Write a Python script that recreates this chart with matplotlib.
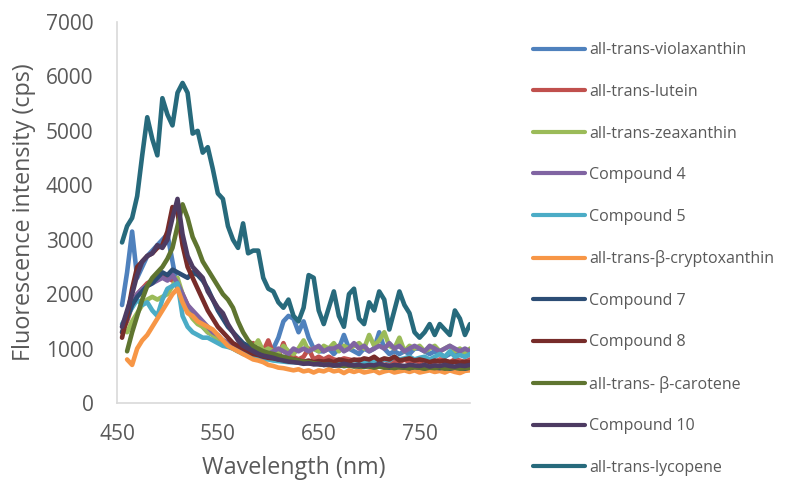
import numpy as np
import matplotlib
matplotlib.use("Agg")
import matplotlib.pyplot as plt

nan = np.nan
wavelength = list(range(455, 801, 5))

violaxanthin = [1800, 2400, 3150, 2300, 2500, 2700, 2800, 2900, 3000, 3100, 2600, 2100, 1900, 1750, 1600, 1500, 1400, 1300, 1250, 1200,
                1150, 1100, 1050, 1000, 1000, 950, 950, 950, 900, 950, 1000, 1200, 1500, 1600, 1550, 1300, 1500, 1200, 1000, 950,
                950, 1000, 900, 1000, 1250, 1000, 950, 900, 1000, 950, 1000, 1300, 1000, 900, 950, 900, 950, 900, 1000, 1000,
                950, 900, 950, 900, 850, 900, 950, 900, 850, 900]
lutein = [1300, 1500, 1800, 2000, 2100, 2200, 2250, 2300, 2350, 2300, 2250, 2200, 2000, 1800, 1650, 1550, 1450, 1350, 1300, 1200,
          1150, 1100, 1050, 1000, 950, 950, 1100, 900, 950, 1150, 900, 850, 1100, 850, 850, 800, 850, 1000, 800, 850,
          800, 850, 800, 780, 820, 800, 780, 800, 750, 800, 780, 750, 800, 750, 780, 750, 800, 750, 780, 750,
          800, 780, 750, 800, 780, 750, 800, 780, 750, 800]
zeaxanthin = [nan, 1300, 1500, 1650, 1800, 1900, 1950, 1900, 1950, 2000, 2150, 2300, 2000, 1700, 1550, 1450, 1400, 1300, 1250, 1150,
              1100, 1050, 1000, 950, 1000, 950, 1000, 1150, 950, 1000, 950, 900, 1050, 950, 900, 1000, 1150, 950, 1000, 950,
              1050, 1000, 1100, 950, 1050, 1000, 1050, 1100, 1000, 1250, 1050, 1150, 1300, 1050, 1000, 1200, 950, 1050, 1000, 1050,
              950, 1000, 1050, 950, 1000, 1050, 950, 1000, 900, 1000]
compound4 = [1400, 1600, 1800, 2000, 2100, 2150, 2200, 2250, 2300, 2250, 2350, 2200, 2000, 1800, 1700, 1600, 1500, 1400, 1300, 1250,
             1150, 1100, 1050, 1000, 950, 1000, 950, 900, 950, 900, 950, 1000, 950, 900, 1000, 950, 1000, 950, 1000, 1050,
             950, 1000, 1000, 1050, 950, 1000, 1100, 1000, 1050, 950, 1000, 1050, 1000, 1100, 1000, 1050, 950, 1000, 1050, 1000,
             950, 1050, 1000, 950, 1000, 1050, 1000, 950, 1000, 950]
compound5 = [1450, 1600, 1750, 1900, 1800, 1850, 1700, 1600, 1900, 2100, 2150, 2200, 1600, 1400, 1300, 1250, 1200, 1200, 1150, 1100,
             1050, 1030, 1000, 950, 900, 880, 850, 830, 800, 800, 780, 770, 760, 750, 750, 740, 730, 730, 720, 720,
             710, 720, 700, 720, 700, 720, 700, 720, 740, 760, 750, 780, 800, 780, 850, 800, 820, 850, 800, 830,
             850, 800, 850, 900, 850, 950, 850, 880, 850, 900]
cryptoxanthin = [nan, 800, 700, 1000, 1150, 1250, 1400, 1550, 1700, 1850, 2000, 2100, 1850, 1650, 1600, 1500, 1450, 1400, 1350, 1250,
                 1150, 1050, 1000, 950, 900, 850, 800, 780, 750, 700, 680, 650, 640, 620, 600, 620, 580, 600, 560, 600,
                 580, 620, 580, 600, 550, 600, 570, 600, 560, 580, 600, 550, 580, 600, 560, 580, 600, 570, 600, 560,
                 580, 600, 570, 590, 560, 600, 570, 550, 590, 600]
compound7 = [1300, 1550, 1800, 1950, 2050, 2150, 2200, 2300, 2400, 2350, 2450, 2400, 2350, 2300, 2400, 2350, 2250, 2100, 1900, 1700,
             1550, 1400, 1300, 1200, 1100, 1050, 1000, 950, 900, 870, 850, 820, 800, 780, 760, 750, 740, 730, 720, 710,
             700, 700, 690, 690, 680, 690, 680, 670, 680, 670, 660, 680, 660, 650, 670, 660, 650, 640, 660, 650,
             640, 660, 650, 640, 650, 630, 650, 640, 630, 650]
compound8 = [1200, 1600, 2100, 2500, 2600, 2700, 2750, 2850, 2900, 3150, 3600, 3500, 2900, 2500, 2300, 2100, 1900, 1700, 1550, 1400,
             1300, 1200, 1100, 1050, 1000, 950, 900, 880, 850, 830, 820, 800, 820, 780, 800, 780, 760, 780, 750, 770,
             760, 780, 750, 800, 780, 760, 800, 780, 820, 800, 850, 780, 820, 800, 850, 780, 800, 820, 780, 800,
             780, 750, 780, 760, 780, 750, 760, 740, 760, 750]
beta_carotene = [nan, 950, 1300, 1600, 1900, 2150, 2300, 2400, 2500, 2650, 2850, 3250, 3650, 3400, 3050, 2850, 2600, 2450, 2300, 2150,
                 2000, 1900, 1750, 1500, 1300, 1150, 1050, 1000, 950, 920, 900, 870, 850, 820, 800, 780, 760, 750, 730, 720,
                 700, 710, 690, 700, 680, 690, 670, 680, 660, 680, 650, 670, 650, 660, 640, 660, 650, 640, 660, 650,
                 630, 650, 640, 660, 630, 640, 650, 630, 640, 650]
compound10 = [1400, 1700, 2000, 2350, 2600, 2700, 2750, 2900, 2850, 3000, 3400, 3750, 3100, 2700, 2500, 2400, 2300, 2050, 1900, 1750,
              1650, 1450, 1300, 1150, 1050, 1000, 950, 900, 870, 850, 830, 800, 780, 760, 750, 740, 720, 730, 710, 720,
              700, 710, 690, 700, 720, 700, 690, 700, 680, 700, 690, 720, 700, 680, 700, 690, 680, 700, 690, 680,
              700, 670, 690, 680, 700, 680, 670, 690, 680, 700]
lycopene = [2950, 3250, 3400, 3800, 4550, 5250, 4850, 4550, 5600, 5300, 5100, 5700, 5880, 5700, 4950, 5000, 4600, 4700, 4300, 3850,
            3750, 3250, 3000, 2850, 3300, 2750, 2800, 2800, 2300, 2100, 2050, 1850, 1750, 1900, 1600, 1500, 1750, 2350, 2300, 1700,
            1450, 1750, 2050, 1600, 1400, 2000, 2100, 1550, 1450, 1850, 1700, 2050, 1900, 1350, 1700, 2050, 1800, 1650, 1300, 1200,
            1300, 1450, 1250, 1450, 1350, 1250, 1700, 1550, 1250, 1450]

series_names = ["all-trans-violaxanthin", "all-trans-lutein", "all-trans-zeaxanthin", "Compound 4", "Compound 5",
                "all-trans-\u03b2-cryptoxanthin", "Compound 7", "Compound 8", "all-trans- \u03b2-carotene", "Compound 10",
                "all-trans-lycopene"]
series_values = [violaxanthin, lutein, zeaxanthin, compound4, compound5, cryptoxanthin, compound7, compound8,
                 beta_carotene, compound10, lycopene]
colors = ["#4F81BD", "#C0504D", "#9BBB59", "#8064A2", "#4BACC6", "#F79646", "#2C4D75", "#772C2A",
          "#5F7530", "#4D3B62", "#276A7C"]

plt.rcParams['font.family'] = ['Open Sans', 'DejaVu Sans']
txt = "#595959"

fig = plt.figure(figsize=(8.06, 4.86), dpi=100)
ax = fig.add_axes([117/806, 1-403/486, (470-117)/806, (403-22)/486])

for name, vals, c in zip(series_names, series_values, colors):
    ax.plot(wavelength, vals, color=c, lw=3.3, label=name, solid_joinstyle='round', solid_capstyle='round')

ax.set_xlim(450, 800)
ax.set_ylim(0, 7000)
ax.set_xticks([450, 550, 650, 750])
ax.set_yticks(range(0, 7001, 1000))
ax.tick_params(length=0, labelsize=15, colors=txt)
ax.tick_params(axis='y', pad=17)
ax.tick_params(axis='x', pad=15)
for s in ["top", "right"]:
    ax.spines[s].set_visible(False)
for s in ["left", "bottom"]:
    ax.spines[s].set_color("#D9D9D9")
    ax.spines[s].set_linewidth(1.2)
ax.set_xlabel("Wavelength (nm)", fontsize=16.8, color=txt, labelpad=8)
ax.set_ylabel("Fluorescence intensity (cps)", fontsize=16.8, color=txt, labelpad=7)

leg = fig.legend(loc="upper left", bbox_to_anchor=(527/806, 1-36/486), frameon=False, fontsize=11.5,
                 handlelength=3.2, handletextpad=0.3, labelspacing=1.6, borderaxespad=0)
for t in leg.get_texts():
    t.set_color(txt)
for l in leg.get_lines():
    l.set_linewidth(3.0)

fig.savefig("out.png", dpi=100)
